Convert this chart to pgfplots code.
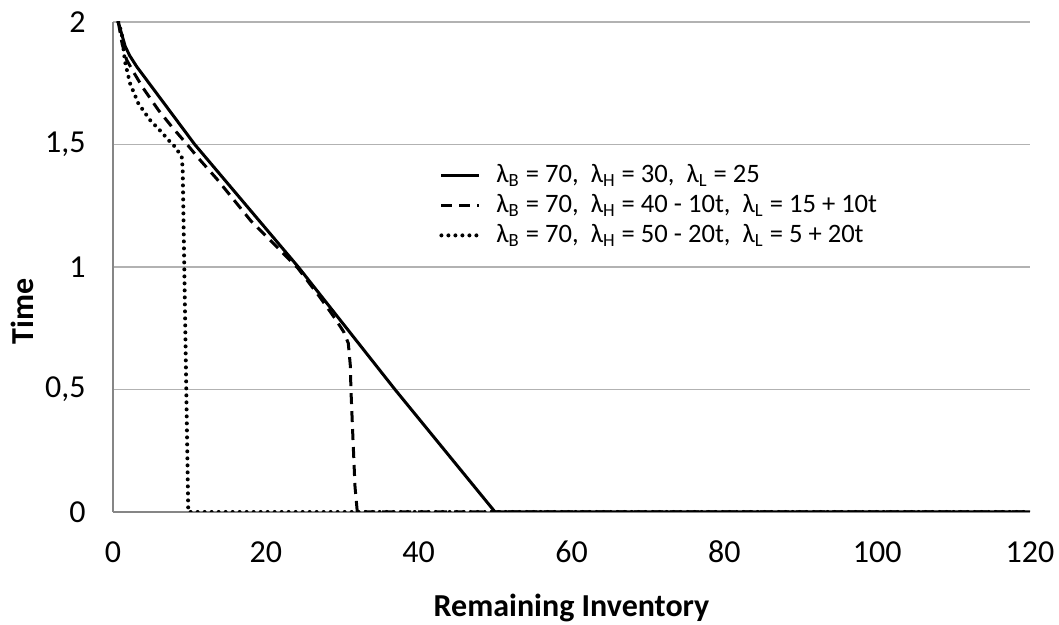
\documentclass[border=0pt]{standalone}
\usepackage{pgfplots}
\pgfplotsset{compat=1.18}
\usepackage{fontspec}
\setmainfont{Carlito}
\definecolor{axisgray}{RGB}{134,134,134}
\definecolor{gridgray}{RGB}{178,178,178}
\begin{document}
\fontsize{16}{19}\selectfont
\begin{tikzpicture}
\begin{axis}[
  at={(0,0)}, anchor=south west,
  width=458.5pt, height=245pt, scale only axis,
  xmin=0, xmax=120, ymin=0, ymax=2,
  xtick={0,20,40,60,80,100,120}, ytick={0,0.5,1,1.5,2},
  axis x line=bottom, axis y line=left,
  axis line style={-, draw=axisgray, line width=0.75pt},
  ymajorgrids, major grid style={draw=gridgray, line width=0.75pt},
  major tick length=0pt, tick style={draw=none},
  /pgf/number format/.cd, use comma, assume math mode=true,
  /pgfplots/.cd,
  ticklabel style={font=\fontsize{16}{19}\selectfont},
  yticklabel style={anchor=east, inner sep=0pt, xshift=-13.5pt},
  xticklabel style={anchor=base, inner sep=0pt, yshift=-25.5pt},
  xlabel={\bfseries Remaining Inventory},
  xlabel style={at={(axis description cs:0.5,0)}, anchor=center, yshift=-48pt, font=\fontsize{16}{19}\selectfont},
  ylabel={\bfseries Time},
  ylabel style={at={(axis description cs:0,0.41)}, anchor=center, yshift=45.5pt, font=\fontsize{16}{19}\selectfont},
  legend style={at={(axis description cs:0.3555,0.717)}, anchor=north west, draw=none, fill=none,
    inner sep=0pt, row sep=0.5pt, column sep=6pt, font=\fontsize{13.3}{16}\selectfont,
    nodes={inner sep=1.5pt}},
  legend cell align=left,
  legend image code/.code={\draw[#1] (0pt,0pt) -- (19pt,0pt);},
]
\addplot[black, line width=1.5pt] coordinates {
(0.69,2.0) (1.6,1.90) (2.2,1.862) (3.1,1.818) (10.7,1.5) (24.25,1.0) (36.9,0.5) (50,0) (120,0)};
\addlegendentry{λ\textsubscript{B} = 70, \ λ\textsubscript{H} = 30, \ λ\textsubscript{L} = 25}
\addplot[black, line width=1.5pt, dash pattern=on 5.5pt off 3.5pt] coordinates {
(0.69,2.0) (1.2,1.91) (1.79,1.845) (2.66,1.797) (3.97,1.729) (5.93,1.641) (7.68,1.573) (9.7,1.5) (11.38,1.437) (13.57,1.36) (18,1.19) (24.2,0.995) (27,0.88) (29.05,0.79) (30.2,0.735) (30.79,0.689) (31.05,0.6) (31.14,0.498) (31.4,0.3) (31.67,0.103) (31.97,0) (120,0)};
\addlegendentry{λ\textsubscript{B} = 70, \ λ\textsubscript{H} = 40 - 10t, \ λ\textsubscript{L} = 15 + 10t}
\addplot[black, line width=2pt, line cap=round, dash pattern=on 0pt off 3.5pt] coordinates {
(0.69,2.0) (1.14,1.954) (1.57,1.838) (2.22,1.750) (3.31,1.668) (4.84,1.600) (6.37,1.55) (7.46,1.511) (8.11,1.491) (8.99,1.45) (9.12,1.40) (9.85,0) (120,0)};
\addlegendentry{λ\textsubscript{B} = 70, \ λ\textsubscript{H} = 50 - 20t, \ λ\textsubscript{L} = 5 + 20t}
\end{axis}
\pgfresetboundingbox
\path[use as bounding box] (-56.5pt,-56.5pt) rectangle (473pt,256pt);
\end{tikzpicture}
\end{document}
